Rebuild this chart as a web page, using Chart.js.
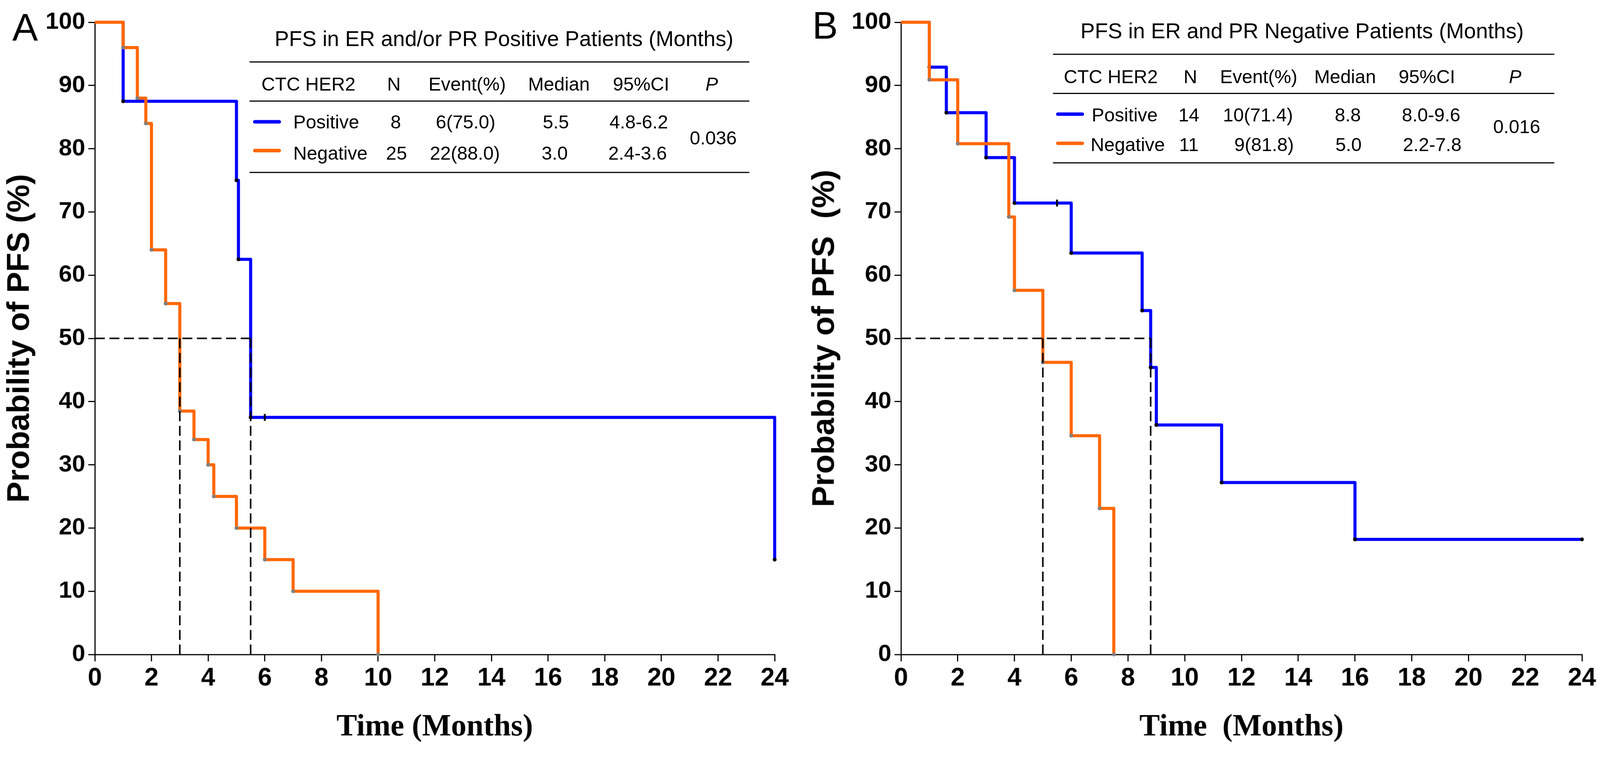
<!DOCTYPE html>
<html>
<head>
<meta charset="utf-8">
<script src="https://cdn.jsdelivr.net/npm/chart.js@4.4.1/dist/chart.umd.min.js"></script>
<style>
html, body { margin: 0; padding: 0; background: #fff; overflow: hidden; }
#wrap { position: relative; width: 4168px; height: 1952px; overflow: hidden; transform-origin: 0 0; font-family: "Liberation Sans", Arial, sans-serif; }
canvas { position: absolute; top: 0; }
.t { position: absolute; white-space: pre; line-height: 1; color: #000; }
.rule { position: absolute; height: 3px; background: #000; }
.sw { position: absolute; height: 9px; border-radius: 5px; }
</style>
</head>
<body>
<div id="wrap">
  <canvas id="chartA" width="2084" height="1952" style="left:0;width:2084px;height:1952px"></canvas>
  <canvas id="chartB" width="2084" height="1952" style="left:2084px;width:2084px;height:1952px"></canvas>
</div>
<script>
// survival curves (time in months, PFS in %)
const aPosTime = [0, 1, 5, 5.07, 5.5, 24];
const aPosPfs  = [100, 87.5, 75, 62.5, 37.5, 15];
const aPosCensorTime = [6];
const aPosCensorPfs  = [37.5];
const aNegTime = [0, 1, 1.5, 1.8, 2, 2.5, 3, 3.5, 4, 4.2, 5, 6, 7, 10];
const aNegPfs  = [100, 96, 88, 84, 64, 55.5, 38.5, 34, 30, 25, 20, 15, 10, 0];
const aMedians = [3.0, 5.5];

const bPosTime = [0, 1, 1.6, 3, 4, 6, 8.5, 8.8, 9, 11.3, 16, 24];
const bPosPfs  = [100, 92.9, 85.7, 78.6, 71.4, 63.5, 54.4, 45.4, 36.3, 27.2, 18.2, 18.2];
const bPosCensorTime = [5.5];
const bPosCensorPfs  = [71.4];
const bNegTime = [0, 1, 2, 3.8, 4, 5, 6, 7, 7.5];
const bNegPfs  = [100, 90.9, 80.8, 69.2, 57.6, 46.2, 34.6, 23.1, 0];
const bMedians = [5.0, 8.8];

// table contents
const tableCols = ['CTC HER2', 'N', 'Event(%)', 'Median', '95%CI', 'P'];
const groups = ['Positive', 'Negative'];
const aTitle = 'PFS in ER and/or PR Positive Patients (Months)';
const aN = ['8', '25'];
const aEvents = ['6(75.0)', '22(88.0)'];
const aMedianTxt = ['5.5', '3.0'];
const aCI = ['4.8-6.2', '2.4-3.6'];
const aP = '0.036';
const bTitle = 'PFS in ER and PR Negative Patients (Months)';
const bN = ['14', '11'];
const bEvents = ['10(71.4)', '9(81.8)'];
const bMedianTxt = ['8.8', '5.0'];
const bCI = ['8.0-9.6', '2.2-7.8'];
const bP = '0.016';

const BLUE = '#0000ff';
const ORANGE = '#ff6600';

// the viewport can be a bit narrower than the 4168px design, so fit it
const wrap = document.getElementById('wrap');
const fit = Math.min(window.innerWidth / 4168, window.innerHeight / 1952, 1);
wrap.style.transform = 'scale(' + fit + ')';

function pts(xs, ys) {
    return xs.map((x, i) => ({ x: x, y: ys[i] }));
}

function medianPts(meds) {
    const out = [{ x: 0, y: 50 }, { x: Math.max(...meds), y: 50 }];
    meds.forEach(m => {
        out.push({ x: m, y: null });
        out.push({ x: m, y: 0 });
        out.push({ x: m, y: 50 });
    });
    return out;
}

function curve(xs, ys, color, markColor) {
    return {
        data: pts(xs, ys),
        stepped: 'before', // horizontal first, then the drop
        borderColor: color,
        borderWidth: 8,
        borderJoinStyle: 'round',
        fill: false,
        clip: false,
        pointRadius: ctx => ctx.dataIndex === 0 ? 0 : 5,
        pointBackgroundColor: markColor,
        pointBorderWidth: 0
    };
}

function makePanel(id, pos, neg, censor, meds, yTitle, xTitle, yWidth, padRight, yTitlePad) {
    const ctx = document.getElementById(id).getContext('2d');
    return new Chart(ctx, {
        type: 'line',
        data: {
            datasets: [
                {
                    data: medianPts(meds),
                    borderColor: '#000',
                    borderWidth: 4,
                    borderDash: [26, 12],
                    pointRadius: 0,
                    spanGaps: false,
                    clip: false
                },
                {
                    data: pts(censor[0], censor[1]),
                    showLine: false,
                    pointStyle: 'line',
                    rotation: 90,
                    pointRadius: 9,
                    borderColor: '#000',
                    pointBorderWidth: 5,
                    clip: false
                },
                curve(neg[0], neg[1], ORANGE, '#808080'),
                curve(pos[0], pos[1], BLUE, '#000')
            ]
        },
        options: {
            responsive: false,
            devicePixelRatio: 1,
            animation: false,
            events: [],
            layout: { padding: { left: 0, right: padRight, top: 58, bottom: 0 } },
            plugins: { legend: { display: false }, tooltip: { enabled: false } },
            scales: {
                x: {
                    type: 'linear',
                    min: 0,
                    max: 24,
                    ticks: {
                        stepSize: 2,
                        autoSkip: false,
                        maxRotation: 0,
                        padding: 5,
                        color: '#000',
                        font: { family: 'Liberation Sans', size: 66, weight: 'bold' }
                    },
                    grid: { drawOnChartArea: false, drawTicks: true, tickLength: 18, color: '#000', lineWidth: 3 },
                    border: { display: true, color: '#000', width: 3 },
                    title: {
                        display: true,
                        text: xTitle,
                        color: '#000',
                        padding: { top: 0, bottom: 8 },
                        font: { family: 'Liberation Serif', size: 80, weight: 'bold' }
                    },
                    afterFit: s => { s.height = 246; }
                },
                y: {
                    min: 0,
                    max: 100,
                    ticks: {
                        stepSize: 10,
                        padding: 8,
                        color: '#000',
                        font: { family: 'Liberation Sans', size: 62, weight: 'bold' }
                    },
                    grid: { drawOnChartArea: false, drawTicks: true, tickLength: 17, color: '#000', lineWidth: 3 },
                    border: { display: true, color: '#000', width: 3 },
                    title: {
                        display: true,
                        text: yTitle,
                        color: '#000',
                        padding: { top: yTitlePad, bottom: 0 },
                        font: { family: 'Liberation Sans', size: 82, weight: 'bold' }
                    },
                    afterFit: s => { s.width = yWidth; }
                }
            }
        }
    });
}

makePanel('chartA', [aPosTime, aPosPfs], [aNegTime, aNegPfs], [aPosCensorTime, aPosCensorPfs], aMedians,
    'Probability of PFS (%)', 'Time (Months)', 247, 66, 3);
makePanel('chartB', [bPosTime, bPosPfs], [bNegTime, bNegPfs], [bPosCensorTime, bPosCensorPfs], bMedians,
    'Probability of PFS  (%)', 'Time  (Months)', 263, 47, 16);

// ---- table overlays (html text) ----
function txt(str, x, baseline, size, align, italic) {
    const d = document.createElement('div');
    d.className = 't';
    d.textContent = str;
    d.style.fontSize = size + 'px';
    d.style.top = (baseline - 0.8465 * size) + 'px';
    d.style.left = x + 'px';
    if (align === 'center') d.style.transform = 'translateX(-50%)';
    if (italic) d.style.fontStyle = 'italic';
    wrap.appendChild(d);
    return d;
}

function rule(x1, x2, y) {
    const d = document.createElement('div');
    d.className = 'rule';
    d.style.left = x1 + 'px';
    d.style.width = (x2 - x1) + 'px';
    d.style.top = (y - 1.5) + 'px';
    wrap.appendChild(d);
}

function swatch(x1, x2, y, color) {
    const d = document.createElement('div');
    d.className = 'sw';
    d.style.left = x1 + 'px';
    d.style.width = (x2 - x1) + 'px';
    d.style.top = (y - 4.5) + 'px';
    d.style.background = color;
    wrap.appendChild(d);
}

function table(L) {
    txt(L.title, L.titleX, L.titleY, 56, 'center');
    L.rules.forEach(y => rule(L.x1, L.x2, y));
    tableCols.forEach((c, i) => {
        txt(c, L.colX[i], L.headY, 49, i === 0 ? 'left' : 'center', i === 5);
    });
    groups.forEach((g, r) => {
        swatch(L.swX[0], L.swX[1], L.swY[r], r === 0 ? BLUE : ORANGE);
        txt(g, L.nameX[r], L.rowY[r], 49, 'left');
        txt(L.n[r], L.cellX[r][0], L.rowY[r], 49, 'center');
        txt(L.ev[r], L.cellX[r][1], L.rowY[r], 49, 'center');
        txt(L.med[r], L.cellX[r][2], L.rowY[r], 49, 'center');
        txt(L.ci[r], L.cellX[r][3], L.rowY[r], 49, 'center');
    });
    txt(L.p, L.pX, L.pY, 49, 'center');
}

table({
    title: aTitle, titleX: 1313, titleY: 120,
    x1: 650, x2: 1952, rules: [161, 263, 449],
    colX: [681, 1026, 1217, 1456, 1670, 1854], headY: 236,
    swX: [659, 732], swY: [317, 392],
    nameX: [764, 764], rowY: [335, 416],
    cellX: [[1031, 1213, 1448, 1664], [1033, 1211, 1445, 1661]],
    n: aN, ev: aEvents, med: aMedianTxt, ci: aCI,
    p: aP, pX: 1858, pY: 376
});

table({
    title: bTitle, titleX: 3392, titleY: 100,
    x1: 2743, x2: 4049, rules: [141, 243, 424],
    colX: [2771, 3101, 3279, 3504, 3717, 3947], headY: 217,
    swX: [2751, 2824], swY: [297, 373],
    nameX: [2844, 2841], rowY: [316, 394],
    cellX: [[3097, 3277, 3511, 3728], [3097, 3293, 3513, 3731]],
    n: bN, ev: bEvents, med: bMedianTxt, ci: bCI,
    p: bP, pX: 3951, pY: 347
});

// panel letters
txt('A', 32, 106, 100, 'left');
txt('B', 2116, 101, 100, 'left');
</script>
</body>
</html>
